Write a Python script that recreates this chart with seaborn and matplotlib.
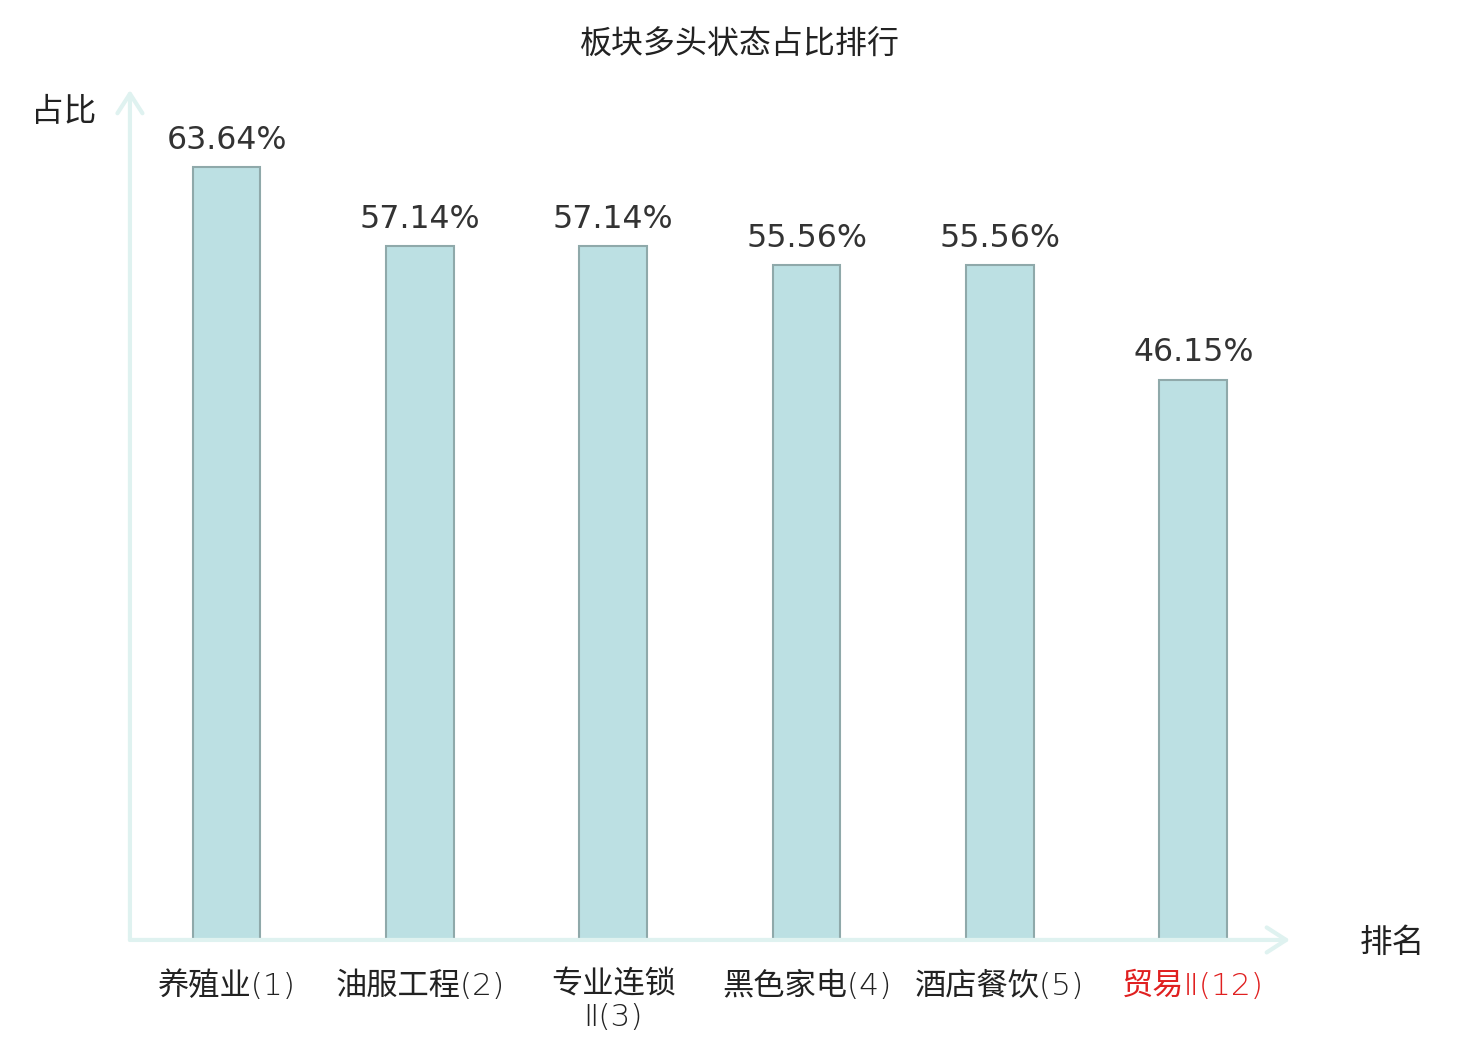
import matplotlib
matplotlib.use("Agg")
import matplotlib.pyplot as plt
import seaborn as sns
import pandas as pd

# 数据
sectors = ["养殖业(1)", "油服工程(2)", "专业连锁\nⅡ(3)", "黑色家电(4)", "酒店餐饮(5)", "贸易Ⅱ(12)"]
ratios = [63.64, 57.14, 57.14, 55.56, 55.56, 46.15]
label_colors = ["#222222", "#222222", "#222222", "#222222", "#222222", "#e02020"]

sns.set_theme(style="white")
plt.rcParams["font.family"] = ["Noto Sans CJK SC", "DejaVu Sans"]

df = pd.DataFrame({"sector": sectors, "ratio": ratios})

fig = plt.figure(figsize=(14.8, 10.4), dpi=100)
ax = fig.add_axes([0.0878, 0.0962, 0.7838, 0.8173])

sns.barplot(data=df, x="sector", y="ratio", ax=ax, color="#bce0e3",
            edgecolor="#8fa9aa", linewidth=1.5, width=0.35, saturation=1)

ax.set_xlim(-0.5, 5.5)
ax.set_ylim(0, 70)

for c in ax.containers:
    ax.bar_label(c, labels=[f"{v:.2f}%" for v in ratios], padding=8,
                 fontsize=22.8, color="#333333", family="DejaVu Sans")

for s in ax.spines.values():
    s.set_visible(False)
ax.set_yticks([])
ax.tick_params(axis="x", length=0, pad=22)
for lbl, col in zip(ax.get_xticklabels(), label_colors):
    lbl.set_color(col)
    lbl.set_fontsize(22.5)
    lbl.set_family(["DejaVu Sans", "Noto Sans CJK SC"])
    lbl.set_fontweight("light")
    lbl.set_linespacing(1.15)
ax.set_xlabel("")
ax.set_ylabel("")

# 坐标轴箭头
arrow_kw = dict(arrowstyle="->,head_length=0.7,head_width=0.45", color="#dff2f0",
                lw=3, mutation_scale=20, shrinkA=0, shrinkB=0)
ax.annotate("", xy=(1.0, 0), xytext=(0, 0), xycoords="axes fraction",
            arrowprops=arrow_kw, annotation_clip=False)
ax.annotate("", xy=(0, 1.0), xytext=(0, 0), xycoords="axes fraction",
            arrowprops=arrow_kw, annotation_clip=False)

fig.text(0.5, 0.957, "板块多头状态占比排行", ha="center", va="center", fontsize=23, color="#222222")
fig.text(0.043, 0.892, "占比", ha="center", va="center", fontsize=23.5, color="#222222")
fig.text(0.9405, 0.093, "排名", ha="center", va="center", fontsize=23.5, color="#222222")

fig.savefig("out.png", dpi=100)
